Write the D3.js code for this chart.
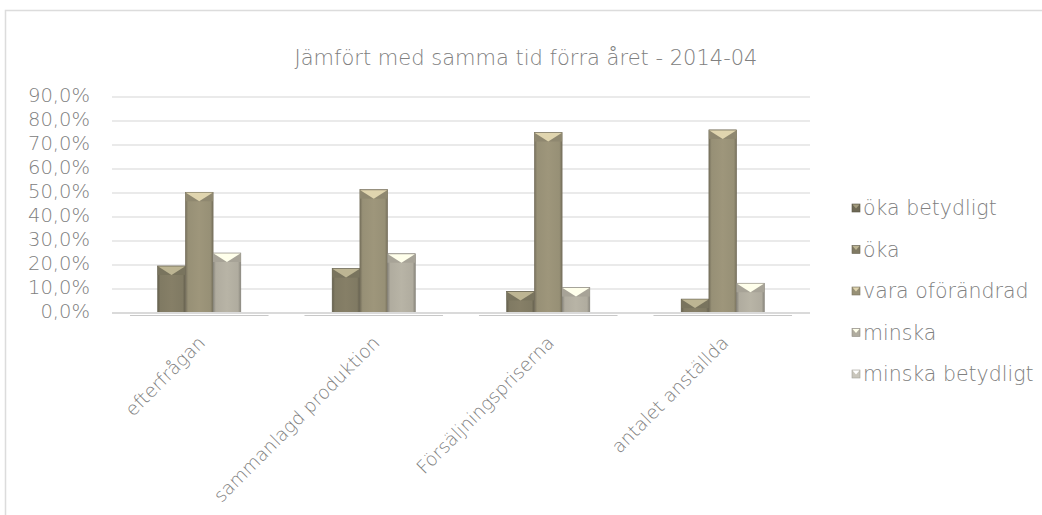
<!DOCTYPE html>
<html>
<head>
<meta charset="utf-8">
<script src="https://cdn.jsdelivr.net/npm/d3@7"></script>
<style>
  body { margin: 0; background: #fff; }
  svg text { font-family: "DejaVu Sans", "Noto Sans", sans-serif; font-weight: 200; fill: #808080; }
</style>
</head>
<body>
<svg id="chart"></svg>
<script>
// data (percent)
var categories = ["efterfrågan", "sammanlagd produktion", "Försäljningspriserna", "antalet anställda"];
var seriesNames = ["öka betydligt", "öka", "vara oförändrad", "minska", "minska betydligt"];
var okaBetydligt = [0, 0, 0, 0];
var oka = [19.6, 18.5, 9.0, 5.8];
var varaOforandrad = [50.3, 51.4, 75.2, 76.3];
var minska = [25.0, 24.7, 10.6, 12.4];
var minskaBetydligt = [0, 0, 0, 0];
var yTicks = [0, 10, 20, 30, 40, 50, 60, 70, 80, 90];
var title = "Jämfört med samma tid förra året - 2014-04";

var seriesValues = [okaBetydligt, oka, varaOforandrad, minska, minskaBetydligt];
var colors = ["#6e6955", "#807a63", "#979076", "#b0ac9f", "#c9c6bc"];

var width = 1042, height = 515;
var plot = { left: 112, right: 810, top: 97, bottom: 313 };

var svg = d3.select("#chart")
  .attr("width", width)
  .attr("height", height);

// chart frame, runs off the right and bottom edges
svg.append("rect")
  .attr("x", 5.5)
  .attr("y", 10.5)
  .attr("width", width + 20)
  .attr("height", height + 20)
  .style("fill", "#fff")
  .style("stroke", "#dcdcdc")
  .style("stroke-width", 1.5);

var y = d3.scaleLinear()
  .domain([0, 90])
  .range([plot.bottom, plot.top]);

var x0 = d3.scaleBand()
  .domain(categories)
  .range([plot.left, plot.right]);

var gap = x0.bandwidth() * 0.103;
var x1 = d3.scaleBand()
  .domain(seriesNames)
  .range([gap, x0.bandwidth() - gap]);

// gradients for the bevelled bars
var defs = svg.append("defs");
colors.forEach(function (c, i) {
  var g = defs.append("linearGradient")
    .attr("id", "grad" + i)
    .attr("x1", 0).attr("x2", 1).attr("y1", 0).attr("y2", 0);
  var base = d3.color(c);
  g.append("stop").attr("offset", "0%").attr("stop-color", base.darker(0.7));
  g.append("stop").attr("offset", "10%").attr("stop-color", base);
  g.append("stop").attr("offset", "50%").attr("stop-color", base.brighter(0.12));
  g.append("stop").attr("offset", "90%").attr("stop-color", base);
  g.append("stop").attr("offset", "100%").attr("stop-color", base.darker(0.7));
});

// gridlines
svg.append("g")
  .selectAll("line")
  .data(yTicks)
  .join("line")
    .attr("x1", plot.left)
    .attr("x2", plot.right)
    .attr("y1", function (d) { return y(d); })
    .attr("y2", function (d) { return y(d); })
    .style("stroke", "#e3e3e3")
    .style("stroke-width", 1.5);

// y axis labels
var yAxis = svg.append("g")
  .attr("transform", "translate(90,-2)")
  .call(d3.axisLeft(y).tickValues(yTicks).tickSize(0).tickPadding(0)
    .tickFormat(function (d) { return d.toFixed(1).replace(".", ",") + "%"; }));
yAxis.select(".domain").remove();
yAxis.selectAll("text")
  .style("font-size", "19.5px")
  .style("fill", "#808080")
  .style("font-family", "'DejaVu Sans', 'Noto Sans', sans-serif")
  .style("font-weight", 200);

var groups = svg.append("g")
  .selectAll("g")
  .data(categories)
  .join("g")
    .attr("transform", function (d) { return "translate(" + x0(d) + ",0)"; });

// shadow under each group of bar slots
groups.append("line")
  .attr("x1", x1(seriesNames[0]))
  .attr("x2", x1(seriesNames[4]) + x1.bandwidth())
  .attr("y1", plot.bottom + 2.5)
  .attr("y2", plot.bottom + 2.5)
  .style("stroke", "#c8c8c8")
  .style("stroke-width", 1.2);

// axis line
svg.append("line")
  .attr("x1", plot.left)
  .attr("x2", plot.right)
  .attr("y1", plot.bottom)
  .attr("y2", plot.bottom)
  .style("stroke", "#dadada")
  .style("stroke-width", 2);

// bars
var bars = groups.selectAll("g.bar")
  .data(function (d, ci) {
    return seriesNames.map(function (s, si) {
      return { series: s, si: si, value: seriesValues[si][ci] };
    });
  })
  .join("g")
    .attr("class", "bar")
    .filter(function (d) { return d.value > 0; });

bars.append("rect")
  .attr("x", function (d) { return x1(d.series); })
  .attr("y", function (d) { return y(d.value); })
  .attr("width", x1.bandwidth())
  .attr("height", function (d) { return plot.bottom - y(d.value); })
  .style("fill", function (d) { return "url(#grad" + d.si + ")"; })
  .style("stroke", function (d) { return d3.color(colors[d.si]).darker(0.8); })
  .style("stroke-width", 0.6);

// top bevel: shoulders with a light V pointing down
bars.append("path")
  .attr("d", function (d) {
    var xl = x1(d.series), w = x1.bandwidth(), yt = y(d.value);
    var h = Math.min(9, plot.bottom - yt);
    return "M" + xl + "," + yt + "L" + (xl + w) + "," + yt +
      "L" + (xl + w) + "," + (yt + h) + "L" + xl + "," + (yt + h) + "Z";
  })
  .style("fill", function (d) { return d3.color(colors[d.si]).darker(0.15); });

bars.append("path")
  .attr("d", function (d) {
    var xl = x1(d.series), w = x1.bandwidth(), yt = y(d.value);
    var h = Math.min(9, plot.bottom - yt);
    return "M" + (xl + 0.5) + "," + (yt + 0.5) + "L" + (xl + w - 0.5) + "," + (yt + 0.5) +
      "L" + (xl + w / 2) + "," + (yt + h) + "Z";
  })
  .style("fill", function (d) { return d3.color(colors[d.si]).brighter(1.1); });

// category labels
svg.append("g")
  .selectAll("text")
  .data(categories)
  .join("text")
    .attr("transform", function (d) {
      return "translate(" + (x0(d) + x0.bandwidth() / 2 + 7) + "," + (plot.bottom + 31) + ") rotate(-45)";
    })
    .attr("text-anchor", "end")
    .style("font-size", "18.5px")
    .text(function (d) { return d; });

// title, centred on the chart area
svg.append("text")
  .attr("x", 526)
  .attr("y", 65)
  .attr("text-anchor", "middle")
  .style("font-size", "21px")
  .text(title);

// legend
var legend = svg.append("g")
  .selectAll("g")
  .data(seriesNames)
  .join("g")
    .attr("transform", function (d, i) { return "translate(852," + (208 + i * 41.5) + ")"; });

legend.append("rect")
  .attr("x", 0)
  .attr("y", -4)
  .attr("width", 8)
  .attr("height", 8)
  .style("fill", function (d, i) { return colors[i]; })
  .style("stroke", function (d, i) { return d3.color(colors[i]).darker(0.6); })
  .style("stroke-width", 0.6);

legend.append("path")
  .attr("d", "M0.5,-3.5L7.5,-3.5L4,0.5Z")
  .style("fill", function (d, i) { return d3.color(colors[i]).brighter(1.1); });

legend.append("text")
  .attr("x", 11)
  .attr("y", 7)
  .style("font-size", "20.5px")
  .text(function (d) { return d; });
</script>
</body>
</html>
